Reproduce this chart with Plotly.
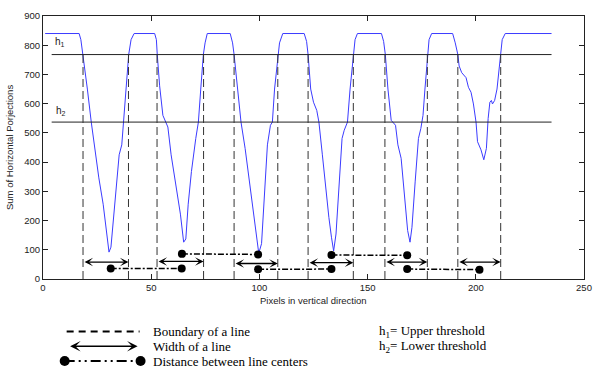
import plotly.graph_objects as go

# ---- data ----
curve_x = [1, 16.7, 17.5, 18.5, 20.5, 22.3, 23.5, 25.8, 27.8, 29.3, 30.5, 31.4, 32.6, 33.9, 35.2, 36.4, 37.2, 38.3, 39.2, 39.6, 40.7, 42.1,
           51.6, 52.4, 52.8, 53.9, 55.4, 57.7, 59.2, 61.5, 63.5, 65.0, 66.0, 67.1, 68.6, 70.6, 71.8, 72.9, 74.1, 74.9, 75.9,
           86.5, 87.6, 88.3, 89.9, 91.5, 93.4, 95.6, 97.6, 99.7, 101.0, 102.5, 103.7, 105.1, 106.0, 107.0, 108.5, 109.3, 110.8,
           120.7, 121.8, 122.5, 123.7, 125.0, 126.5, 127.5, 129.1, 130.6, 132.1, 133.3, 134.3, 135.4, 136.6, 138.2, 139.2, 140.7, 141.9, 143.4, 144.2, 145.3,
           156.4, 157.4, 158.2, 159.4, 160.9, 162.9, 164.0, 165.5, 167.0, 168.5, 169.6, 170.5, 172.0, 173.5, 174.6, 175.6, 176.5, 177.6, 178.4, 179.6,
           189.3, 190.5, 191.7, 192.3, 193.5, 195.5, 196.6, 197.8, 198.9, 200.1, 200.8, 202.4, 203.7, 204.9, 205.7, 206.5, 207.2, 207.7, 208.7, 209.8, 211.3, 212.2, 213.6,
           235]
curve_y = [840, 840, 819, 768, 650, 537, 470, 346, 256, 154, 92, 109, 211, 323, 425, 459, 537, 650, 740, 768, 819, 840,
           840, 819, 768, 661, 560, 520, 425, 323, 222, 126, 137, 256, 368, 481, 537, 650, 768, 808, 840,
           840, 808, 768, 661, 537, 447, 323, 211, 88, 121, 312, 459, 526, 537, 650, 768, 808, 840,
           840, 813, 768, 650, 605, 577, 537, 425, 312, 211, 143, 96, 154, 290, 481, 509, 537, 650, 768, 819, 840,
           840, 813, 768, 650, 543, 526, 459, 413, 278, 166, 126, 177, 335, 481, 515, 560, 650, 768, 819, 840,
           840, 808, 768, 729, 706, 689, 656, 639, 599, 537, 470, 442, 408, 447, 549, 605, 611, 599, 611, 650, 768, 819, 840,
           840]

h1 = 768
h2 = 537
threshold_x = [4, 235]

boundaries = [18.5, 39.5, 52.7, 74.2, 88.3, 108.5, 122.5, 143.4, 158.0, 177.6, 191.7, 211.5]
width_y = [58, 60, 53, 56, 58, 58]

centers_lower_x = [[31.3, 64.1], [99.4, 133.3], [168.3, 201.7]]
centers_lower_y = [[36, 36], [33, 34], [34, 32]]
centers_upper_x = [[64.2, 99.4], [133.3, 168.3]]
centers_upper_y = [[86, 84], [82, 81]]

x_ticks = [0, 50, 100, 150, 200, 250]
y_ticks = [0, 100, 200, 300, 400, 500, 600, 700, 800, 900]

legend_labels = ["Boundary of a line", "Width of a line", "Distance between line centers"]
threshold_labels = ["h<sub>1</sub>= Upper threshold", "h<sub>2</sub>= Lower threshold"]

# ---- figure geometry (body margin removed in the page) ----
W, H = 602, 368
PLOT_L, PLOT_T, PW, PH = 43, 13, 549, 266     # in window pixels
L, T = PLOT_L, PLOT_T
R = W - L - PW
B = H - T - PH


def px_to_paper(px, py):
    return (px - PLOT_L) / PW, (PLOT_T + PH - py) / PH


fig = go.Figure()

fig.add_trace(go.Scatter(x=curve_x, y=curve_y, mode="lines",
                         line=dict(color="#3b3bff", width=1), hoverinfo="skip"))

for hv in (h1, h2):
    fig.add_trace(go.Scatter(x=threshold_x, y=[hv, hv], mode="lines",
                             line=dict(color="#222222", width=1), hoverinfo="skip"))

bx, by = [], []
for b in boundaries:
    bx += [b, b, None]
    by += [0, h1, None]
fig.add_trace(go.Scatter(x=bx, y=by, mode="lines",
                         line=dict(color="#333333", width=1, dash="8px,4px"), hoverinfo="skip"))

dotdash = "6px,2px,2px,2px"
for xs, ys in list(zip(centers_lower_x, centers_lower_y)) + list(zip(centers_upper_x, centers_upper_y)):
    fig.add_trace(go.Scatter(x=xs, y=ys, mode="lines+markers",
                             line=dict(color="black", width=1.5, dash=dotdash),
                             marker=dict(color="black", size=8), hoverinfo="skip"))

annotations = []
for i, wy in enumerate(width_y):
    a, b = boundaries[2 * i], boundaries[2 * i + 1]
    annotations.append(dict(x=b, y=wy, ax=a, ay=wy, xref="x", yref="y", axref="x", ayref="y",
                            text="", showarrow=True, arrowside="end+start", arrowhead=3,
                            arrowsize=1.1, arrowwidth=1.3, arrowcolor="black",
                            standoff=0, startstandoff=0))

# threshold labels
annotations.append(dict(x=4.5, y=h1 + 14, xref="x", yref="y", text="h<sub>1</sub>", showarrow=False,
                        xanchor="left", yanchor="bottom",
                        font=dict(family="Liberation Sans, Arial", size=10, color="#222")))
annotations.append(dict(x=5, y=h2 + 12, xref="x", yref="y", text="h<sub>2</sub>", showarrow=False,
                        xanchor="left", yanchor="bottom",
                        font=dict(family="Liberation Sans, Arial", size=10, color="#222")))

# axis titles
tx, ty = px_to_paper(9, 146)
annotations.append(dict(x=tx, y=ty, xref="paper", yref="paper", text="Sum of Horizontal Porjections",
                        textangle=-90, showarrow=False, xanchor="center", yanchor="middle",
                        font=dict(family="Liberation Sans, Arial", size=9.5, color="#222")))
tx, ty = px_to_paper(317, 301)
annotations.append(dict(x=tx, y=ty, xref="paper", yref="paper", text="Pixels in vertical direction",
                        showarrow=False, xanchor="center", yanchor="middle",
                        font=dict(family="Liberation Sans, Arial", size=9.5, color="#222")))

# legend block below
serif = dict(family="Liberation Serif, Times New Roman", size=13, color="black")
rows_py = [332, 347, 362]
for lab, py in zip(legend_labels, rows_py):
    x0, y0 = px_to_paper(153, py)
    annotations.append(dict(x=x0, y=y0, xref="paper", yref="paper", text=lab, showarrow=False,
                            xanchor="left", yanchor="middle", font=serif))
for lab, py in zip(threshold_labels, rows_py[:2]):
    x0, y0 = px_to_paper(382, py)
    annotations.append(dict(x=x0, y=y0, xref="paper", yref="paper", text=lab, showarrow=False,
                            xanchor="left", yanchor="middle", font=serif))

shapes = []
# dashed sample
xa, ya = px_to_paper(67, rows_py[0])
xb, _ = px_to_paper(141, rows_py[0])
shapes.append(dict(type="line", xref="paper", yref="paper", x0=xa, x1=xb, y0=ya, y1=ya,
                   line=dict(color="black", width=2, dash="7px,5px")))
# arrow sample
xa, ya = px_to_paper(139, rows_py[1])
annotations.append(dict(x=xa, y=ya, xref="paper", yref="paper", axref="pixel", ayref="pixel",
                        ax=-69, ay=0, text="", showarrow=True, arrowside="end+start", arrowhead=3,
                        arrowsize=1.1, arrowwidth=1.6, arrowcolor="black", standoff=0, startstandoff=0))
# dot-dash sample
xa, ya = px_to_paper(65, rows_py[2])
xb, _ = px_to_paper(142, rows_py[2])
shapes.append(dict(type="line", xref="paper", yref="paper", x0=xa, x1=xb, y0=ya, y1=ya,
                   line=dict(color="black", width=2, dash="10px,4px,2px,4px,2px,4px")))
for xc in (xa, xb):
    shapes.append(dict(type="circle", xref="paper", yref="paper", xsizemode="pixel", ysizemode="pixel",
                       xanchor=xc, yanchor=ya, x0=-5, x1=5, y0=-5, y1=5,
                       fillcolor="black", line=dict(color="black", width=0)))

axis_common = dict(showgrid=False, zeroline=False, showline=True, linecolor="#222", linewidth=1,
                   mirror="ticks", ticks="inside", ticklen=5, tickcolor="#222",
                   tickfont=dict(family="Liberation Sans, Arial", size=9.5, color="#222"))

fig.update_layout(
    width=W, height=H,
    margin=dict(l=L, r=R, t=T, b=B),
    plot_bgcolor="white", paper_bgcolor="white",
    showlegend=False,
    hovermode=False,
    xaxis=dict(range=[0, 250], tickvals=x_ticks, **axis_common),
    yaxis=dict(range=[0, 900], tickvals=y_ticks, **axis_common),
    annotations=annotations,
    shapes=shapes,
)

fig.write_html("out.html",
               config={"displayModeBar": False, "staticPlot": True},
               post_script="document.body.style.margin='0px';document.body.style.overflow='hidden';")
